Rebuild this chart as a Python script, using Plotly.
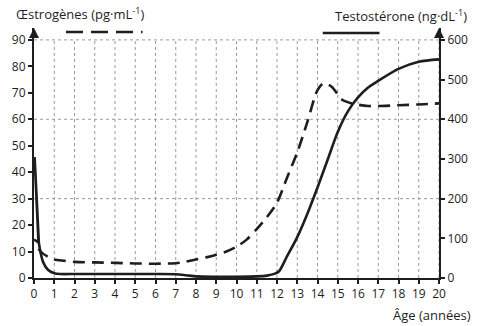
import plotly.graph_objects as go

# Estrogens (pg/mL), left axis
est_age = [0.22, 0.4, 0.7, 1.0, 1.5, 2, 3, 4, 5, 6, 7, 7.5, 8, 8.5, 9, 9.5, 10, 10.5, 11, 11.5,
           12, 12.5, 13, 13.5, 14, 14.3, 14.7, 15.2, 15.7, 16.5, 17, 18, 19, 20]
est_val = [11, 9.5, 8, 7, 6.5, 6.1, 5.9, 5.7, 5.5, 5.4, 5.6, 6.2, 7, 7.8, 8.8, 10, 11.8, 14.5, 18.5, 23,
           28.5, 38, 47.5, 59, 71, 73.6, 72.3, 67.5, 66, 65, 65, 65.3, 65.6, 66]

# Testosterone (ng/dL), right axis
neo_age = [0, 0.22, 0.03, 0.24]
neo_val = [97, 90, 305, 88]
tes_age = [0.24, 0.32, 0.45, 0.7, 1.0, 1.3, 2, 4, 6, 7, 7.5, 8, 9, 10, 11, 11.5, 11.9, 12.1, 12.5,
           13, 13.5, 14, 14.5, 15, 15.5, 16, 16.5, 17, 18, 19, 20]
tes_val = [88, 65, 40, 20, 12, 10, 10, 10, 10, 9.5, 7, 4, 3, 3, 4, 6, 11, 17, 55,
           103, 162, 228, 298, 368, 420, 455, 480, 497, 527, 545, 551]

x_ticks = list(range(0, 21))
left_ticks = list(range(0, 91, 10))
right_ticks = list(range(0, 601, 100))
grid_h = [30, 60, 90]
grid_v = list(range(1, 21))

INK = "#1e1e1e"
FONT = "Open Sans"

fig = go.Figure()
fig.add_trace(go.Scatter(x=est_age, y=est_val, mode="lines", line=dict(color=INK, width=2.6, dash="12px,7px", shape="spline", smoothing=0.8), showlegend=False, yaxis="y"))
fig.add_trace(go.Scatter(x=neo_age, y=neo_val, mode="lines", line=dict(color=INK, width=2.6), showlegend=False, yaxis="y2"))
fig.add_trace(go.Scatter(x=tes_age, y=tes_val, mode="lines", line=dict(color=INK, width=2.6, shape="spline", smoothing=0.8), showlegend=False, yaxis="y2"))

shapes = []
for g in grid_v:
    shapes.append(dict(type="line", xref="x", yref="y", x0=g, x1=g, y0=0, y1=90, line=dict(color="#9a9a9a", width=1, dash="dot"), layer="below"))
for g in grid_h:
    shapes.append(dict(type="line", xref="x", yref="y", x0=0, x1=20, y0=g, y1=g, line=dict(color="#9a9a9a", width=1, dash="dot"), layer="below"))
# legend samples
shapes.append(dict(type="line", xref="paper", yref="paper", x0=0.079, x1=0.268, y0=0.984, y1=0.984, line=dict(color=INK, width=2.6, dash="17px,8px")))
shapes.append(dict(type="line", xref="paper", yref="paper", x0=0.713, x1=0.853, y0=0.98, y1=0.98, line=dict(color=INK, width=2.6)))

annotations = [
    dict(text="Œstrogènes (pg·mL<sup>-1</sup>)", xref="paper", yref="paper", x=-0.049, y=1.056, xanchor="left", yanchor="middle", showarrow=False, font=dict(size=13, color=INK, family=FONT)),
    dict(text="Testostérone (ng·dL<sup>-1</sup>)", xref="paper", yref="paper", x=1.074, y=1.048, xanchor="right", yanchor="middle", showarrow=False, font=dict(size=13, color=INK, family=FONT)),
    dict(text="Âge (années)", xref="paper", yref="paper", x=1.085, y=-0.148, xanchor="right", yanchor="middle", showarrow=False, font=dict(size=13, color=INK, family=FONT)),
    dict(text="", xref="paper", yref="paper", x=0, y=1.0, ax=0, ay=10, showarrow=True, arrowhead=2, arrowsize=1, arrowwidth=2, arrowcolor=INK),
    dict(text="", xref="paper", yref="paper", x=1, y=1.0, ax=0, ay=10, showarrow=True, arrowhead=2, arrowsize=1, arrowwidth=2, arrowcolor=INK),
]

fig.update_layout(
    width=480, height=326,
    margin=dict(l=33, r=40, t=28, b=48),
    paper_bgcolor="white", plot_bgcolor="white",
    font=dict(family=FONT, size=12, color=INK),
    xaxis=dict(range=[0, 20], tickvals=x_ticks, ticktext=[str(v) for v in x_ticks], showgrid=False, zeroline=False,
               showline=True, linecolor=INK, linewidth=2, ticks="outside", ticklen=4, tickwidth=1.5, tickcolor=INK,
               tickfont=dict(size=12)),
    yaxis=dict(range=[0, 94.5], tickvals=left_ticks, showgrid=False, zeroline=False, showline=True, linecolor=INK,
               linewidth=2, ticks="outside", ticklen=4, tickwidth=1.5, tickcolor=INK, tickfont=dict(size=12)),
    yaxis2=dict(range=[0, 630], tickvals=right_ticks, overlaying="y", side="right", showgrid=False, zeroline=False,
                showline=True, linecolor=INK, linewidth=2, ticks="outside", ticklen=4, tickwidth=1.5, tickcolor=INK,
                tickfont=dict(size=12)),
    shapes=shapes, annotations=annotations,
)

fig.write_html("out.html")
